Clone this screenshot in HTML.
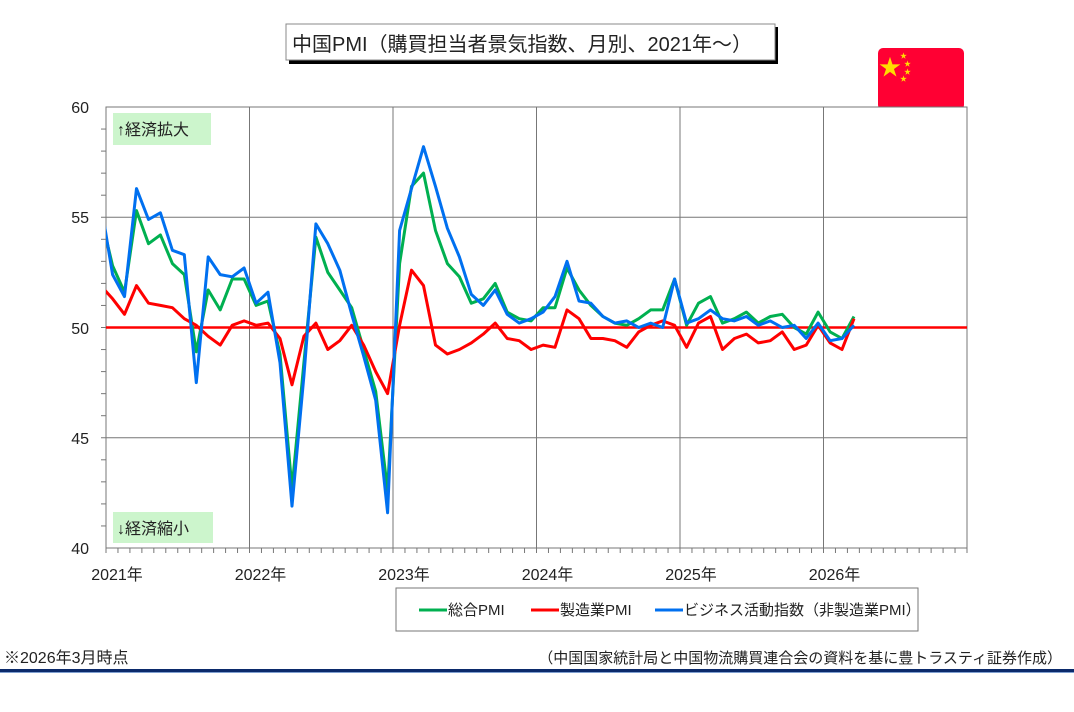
<!DOCTYPE html>
<html><head><meta charset="utf-8">
<style>
body{margin:0;background:#fff;width:1074px;height:707px;overflow:hidden;font-family:"Liberation Sans","Noto Sans CJK JP",sans-serif;}
svg text{font-family:"Liberation Sans","Noto Sans CJK JP",sans-serif;fill:#222;}
</style></head><body>
<svg id="s" width="1074" height="707" xmlns="http://www.w3.org/2000/svg">
<defs>
<clipPath id="c"><rect x="106" y="107" width="861" height="441"/></clipPath>
<linearGradient id="rf" x1="0" y1="0" x2="0" y2="1"><stop offset="0" stop-color="#ff0033" stop-opacity="0.45"/><stop offset="1" stop-color="#ff0033" stop-opacity="0"/></linearGradient>
</defs>
<!-- title -->
<rect x="289" y="27" width="489" height="37" fill="#000"/>
<rect x="286" y="24" width="489" height="36" fill="#fff" stroke="#888" stroke-width="1"/>
<text x="292" y="51" font-size="20">中国PMI（購買担当者景気指数、月別、2021年～）</text>
<!-- flag -->
<rect x="878" y="48" width="86" height="62" rx="5" fill="#ff0033"/>
<rect x="878" y="112" width="86" height="18" fill="url(#rf)"/>
<text x="879" y="75" font-size="22" style="fill:#ffdd00">★</text>
<text x="900" y="58" font-size="7" style="fill:#ffdd00">★</text>
<text x="904" y="66" font-size="7" style="fill:#ffdd00">★</text>
<text x="904" y="74" font-size="7" style="fill:#ffdd00">★</text>
<text x="900" y="81" font-size="7" style="fill:#ffdd00">★</text>
<!-- plot -->
<rect x="106" y="107" width="861" height="441" fill="#fff" stroke="#777" stroke-width="1"/>
<g id="grid" stroke="#777" stroke-width="1"></g>
<rect x="113" y="113" width="98" height="32" fill="#ccf5cc"/>
<text x="117" y="135" font-size="16">↑経済拡大</text>
<rect x="113" y="512" width="100" height="31" fill="#ccf5cc"/>
<text x="117" y="534" font-size="16">↓経済縮小</text>
<g font-size="16" text-anchor="end">
<text x="89" y="113">60</text><text x="89" y="223">55</text><text x="89" y="334">50</text><text x="89" y="444">45</text><text x="89" y="554">40</text>
</g>
<g id="xl" font-size="16" text-anchor="middle"></g>
<line x1="106" y1="327.5" x2="967" y2="327.5" stroke="#f00" stroke-width="2.5"/>
<g clip-path="url(#c)" fill="none" stroke-width="3" stroke-linejoin="round">
<polyline id="pg" stroke="#00b050"/>
<polyline id="pr" stroke="#ff0000"/>
<polyline id="pb" stroke="#0070f0"/>
</g>
<!-- legend -->
<rect x="396" y="588" width="522" height="43" fill="#fff" stroke="#777"/>
<line x1="419" y1="610" x2="447" y2="610" stroke="#00b050" stroke-width="3"/>
<text x="448" y="615" font-size="15">総合PMI</text>
<line x1="531" y1="610" x2="559" y2="610" stroke="#ff0000" stroke-width="3"/>
<text x="560" y="615" font-size="15">製造業PMI</text>
<line x1="655" y1="610" x2="683" y2="610" stroke="#0070f0" stroke-width="3"/>
<text x="684" y="615" font-size="15">ビジネス活動指数（非製造業PMI）</text>
<text x="4" y="663" font-size="16">※2026年3月時点</text>
<text x="1062" y="663" font-size="15" text-anchor="end">（中国国家統計局と中国物流購買連合会の資料を基に豊トラスティ証券作成）</text>
<rect x="0" y="669" width="1074" height="3" fill="#0b2a6b"/>
<rect x="0" y="672" width="1074" height="1" fill="#7f9fd0"/>
</svg>
<script>
var g=[55.1,52.8,51.6,55.3,53.8,54.2,52.9,52.4,48.9,51.7,50.8,52.2,52.2,51.0,51.2,48.8,42.7,48.4,54.1,52.5,51.7,50.9,49.0,47.1,42.6,52.9,56.4,57.0,54.4,52.9,52.3,51.1,51.3,52.0,50.7,50.4,50.3,50.9,50.9,52.7,51.7,51.0,50.5,50.2,50.1,50.4,50.8,50.8,52.2,50.1,51.1,51.4,50.2,50.4,50.7,50.2,50.5,50.6,50.0,49.7,50.7,49.8,49.5,50.5];
var r=[51.9,51.3,50.6,51.9,51.1,51.0,50.9,50.4,50.1,49.6,49.2,50.1,50.3,50.1,50.2,49.5,47.4,49.6,50.2,49.0,49.4,50.1,49.2,48.0,47.0,50.1,52.6,51.9,49.2,48.8,49.0,49.3,49.7,50.2,49.5,49.4,49.0,49.2,49.1,50.8,50.4,49.5,49.5,49.4,49.1,49.8,50.1,50.3,50.1,49.1,50.2,50.5,49.0,49.5,49.7,49.3,49.4,49.8,49.0,49.2,50.1,49.3,49.0,50.4];
var b=[55.7,52.4,51.4,56.3,54.9,55.2,53.5,53.3,47.5,53.2,52.4,52.3,52.7,51.1,51.6,48.4,41.9,47.8,54.7,53.8,52.6,50.6,48.7,46.7,41.6,54.4,56.3,58.2,56.4,54.5,53.2,51.5,51.0,51.7,50.6,50.2,50.4,50.7,51.4,53.0,51.2,51.1,50.5,50.2,50.3,50.0,50.2,50.0,52.2,50.2,50.4,50.8,50.4,50.3,50.5,50.1,50.3,50.0,50.1,49.5,50.2,49.4,49.5,50.1];
var mw=861/72;
function X(i){return 106+mw*(i-1+0.55);}
function Y(v){return 548-(v-40)*22.05;}
function pts(a){return a.map(function(v,i){return X(i).toFixed(1)+","+Y(v).toFixed(1)}).join(" ");}
document.getElementById("pg").setAttribute("points",pts(g));
document.getElementById("pr").setAttribute("points",pts(r));
document.getElementById("pb").setAttribute("points",pts(b));
var ns="http://www.w3.org/2000/svg",gr=document.getElementById("grid"),xl=document.getElementById("xl");
function L(x1,y1,x2,y2){var l=document.createElementNS(ns,"line");l.setAttribute("x1",x1);l.setAttribute("y1",y1);l.setAttribute("x2",x2);l.setAttribute("y2",y2);gr.appendChild(l);}
for(var k=1;k<4;k++){var y=107+k*110.25;L(106,y,967,y);}
for(var k=1;k<6;k++){var x=106+k*143.5;L(x,107,x,548);}
for(var v=41;v<60;v++){L(101,Y(v),106,Y(v));}
for(var m=0;m<=72;m++){L(106+m*mw,548,106+m*mw,553);}
for(var k=0;k<6;k++){var t=document.createElementNS(ns,"text");t.setAttribute("x",106+k*143.5+11);t.setAttribute("y",580);t.textContent=(2021+k)+"年";xl.appendChild(t);}
</script>
</body></html>
